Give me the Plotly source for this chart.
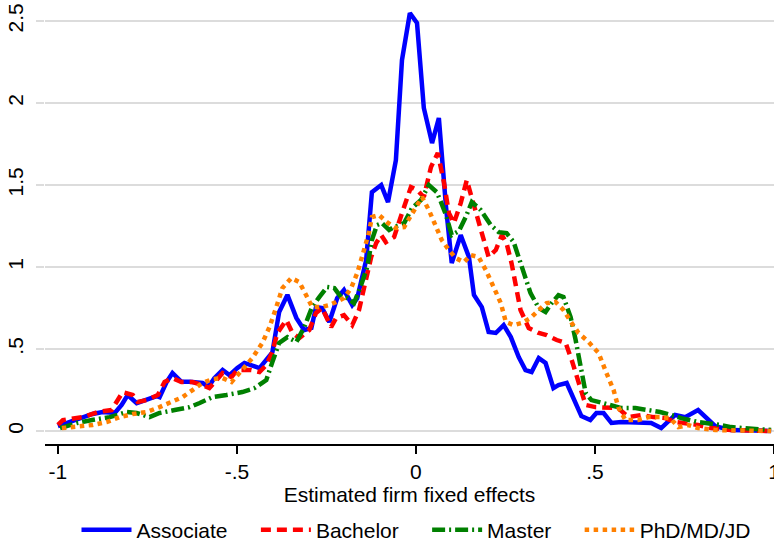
import plotly.graph_objects as go

# ---- data ----
assoc_x = [-1.000, -0.967, -0.903, -0.875, -0.841, -0.822, -0.805, -0.780, -0.752, -0.724, -0.716, -0.696, -0.680, -0.655, -0.632, -0.596, -0.579, -0.563, -0.540, -0.521, -0.499, -0.479, -0.437, -0.401, -0.382, -0.359, -0.334, -0.312, -0.292, -0.279, -0.262, -0.242, -0.220, -0.201, -0.178, -0.164, -0.139, -0.123, -0.097, -0.078, -0.056, -0.039, -0.017, 0.003, 0.022, 0.045, 0.064, 0.084, 0.100, 0.125, 0.148, 0.162, 0.184, 0.203, 0.223, 0.245, 0.265, 0.287, 0.306, 0.323, 0.343, 0.362, 0.384, 0.398, 0.421, 0.446, 0.462, 0.487, 0.504, 0.524, 0.546, 0.574, 0.621, 0.657, 0.685, 0.724, 0.752, 0.788, 0.836, 0.880, 0.992]
assoc_y = [0.030, 0.055, 0.104, 0.116, 0.110, 0.159, 0.220, 0.170, 0.190, 0.213, 0.207, 0.300, 0.354, 0.300, 0.300, 0.293, 0.270, 0.323, 0.372, 0.341, 0.384, 0.415, 0.384, 0.480, 0.726, 0.830, 0.690, 0.616, 0.628, 0.756, 0.750, 0.665, 0.810, 0.860, 0.768, 0.810, 1.043, 1.457, 1.500, 1.396, 1.652, 2.262, 2.549, 2.488, 1.970, 1.756, 1.909, 1.366, 1.024, 1.195, 1.061, 0.830, 0.756, 0.604, 0.598, 0.646, 0.573, 0.451, 0.372, 0.360, 0.445, 0.415, 0.262, 0.280, 0.293, 0.159, 0.091, 0.067, 0.110, 0.110, 0.049, 0.055, 0.055, 0.049, 0.018, 0.098, 0.085, 0.128, 0.030, 0.006, 0.000]

bach_x = [-1.000, -0.986, -0.930, -0.889, -0.850, -0.819, -0.791, -0.777, -0.752, -0.721, -0.702, -0.680, -0.655, -0.624, -0.596, -0.577, -0.557, -0.540, -0.515, -0.499, -0.460, -0.437, -0.418, -0.401, -0.387, -0.362, -0.345, -0.326, -0.298, -0.279, -0.262, -0.237, -0.223, -0.201, -0.178, -0.159, -0.145, -0.125, -0.111, -0.097, -0.084, -0.061, -0.039, -0.014, 0.003, 0.022, 0.042, 0.061, 0.078, 0.092, 0.106, 0.125, 0.142, 0.156, 0.181, 0.203, 0.223, 0.240, 0.253, 0.267, 0.292, 0.315, 0.343, 0.365, 0.393, 0.418, 0.435, 0.454, 0.474, 0.501, 0.532, 0.565, 0.593, 0.630, 0.663, 0.696, 0.724, 0.752, 0.788, 0.825, 0.880, 0.992]
bach_y = [0.037, 0.067, 0.085, 0.116, 0.128, 0.238, 0.220, 0.177, 0.189, 0.220, 0.299, 0.323, 0.299, 0.299, 0.280, 0.262, 0.311, 0.354, 0.329, 0.372, 0.372, 0.360, 0.402, 0.482, 0.598, 0.677, 0.598, 0.567, 0.616, 0.720, 0.750, 0.634, 0.689, 0.707, 0.646, 0.738, 0.872, 1.061, 1.146, 1.195, 1.152, 1.183, 1.329, 1.488, 1.470, 1.427, 1.610, 1.695, 1.518, 1.329, 1.268, 1.390, 1.530, 1.427, 1.244, 1.061, 1.104, 1.195, 1.146, 1.024, 0.738, 0.628, 0.598, 0.585, 0.555, 0.537, 0.433, 0.293, 0.159, 0.146, 0.140, 0.140, 0.085, 0.098, 0.085, 0.079, 0.055, 0.049, 0.037, 0.018, 0.006, 0.000]

mast_x = [-0.994, -0.947, -0.905, -0.855, -0.808, -0.780, -0.744, -0.716, -0.674, -0.632, -0.604, -0.568, -0.529, -0.493, -0.485, -0.451, -0.418, -0.401, -0.382, -0.359, -0.334, -0.312, -0.290, -0.270, -0.248, -0.228, -0.209, -0.192, -0.173, -0.153, -0.136, -0.123, -0.109, -0.095, -0.075, -0.061, -0.033, -0.011, 0.014, 0.036, 0.058, 0.070, 0.084, 0.100, 0.120, 0.139, 0.156, 0.181, 0.209, 0.231, 0.253, 0.273, 0.287, 0.306, 0.320, 0.343, 0.362, 0.379, 0.398, 0.412, 0.432, 0.446, 0.460, 0.474, 0.490, 0.518, 0.546, 0.574, 0.613, 0.657, 0.682, 0.713, 0.741, 0.788, 0.816, 0.852, 0.880, 0.928, 0.992]
mast_y = [0.018, 0.049, 0.067, 0.085, 0.116, 0.110, 0.085, 0.110, 0.128, 0.146, 0.171, 0.207, 0.220, 0.232, 0.238, 0.262, 0.311, 0.421, 0.537, 0.573, 0.543, 0.634, 0.756, 0.817, 0.878, 0.872, 0.817, 0.811, 0.780, 0.890, 1.000, 1.165, 1.256, 1.268, 1.226, 1.244, 1.268, 1.360, 1.409, 1.500, 1.457, 1.396, 1.317, 1.195, 1.220, 1.305, 1.396, 1.348, 1.256, 1.213, 1.207, 1.152, 1.061, 0.939, 0.841, 0.750, 0.726, 0.780, 0.829, 0.817, 0.695, 0.555, 0.390, 0.232, 0.189, 0.171, 0.159, 0.140, 0.140, 0.128, 0.116, 0.098, 0.079, 0.055, 0.049, 0.037, 0.024, 0.018, 0.006]

phd_x = [-0.989, -0.947, -0.903, -0.864, -0.827, -0.791, -0.752, -0.716, -0.680, -0.652, -0.624, -0.596, -0.568, -0.540, -0.515, -0.493, -0.457, -0.429, -0.409, -0.390, -0.373, -0.348, -0.326, -0.304, -0.290, -0.265, -0.242, -0.223, -0.201, -0.181, -0.164, -0.145, -0.131, -0.123, -0.103, -0.081, -0.056, -0.033, -0.011, 0.017, 0.036, 0.056, 0.072, 0.092, 0.111, 0.134, 0.153, 0.175, 0.195, 0.217, 0.237, 0.251, 0.273, 0.295, 0.320, 0.343, 0.365, 0.390, 0.412, 0.435, 0.454, 0.482, 0.510, 0.532, 0.552, 0.565, 0.585, 0.621, 0.649, 0.685, 0.710, 0.733, 0.760, 0.788, 0.836, 0.992]
phd_y = [0.018, 0.024, 0.037, 0.055, 0.085, 0.104, 0.116, 0.146, 0.177, 0.207, 0.250, 0.293, 0.317, 0.323, 0.299, 0.354, 0.445, 0.537, 0.634, 0.756, 0.872, 0.933, 0.909, 0.817, 0.756, 0.756, 0.768, 0.787, 0.811, 0.872, 0.963, 1.104, 1.213, 1.305, 1.317, 1.274, 1.238, 1.244, 1.329, 1.427, 1.348, 1.244, 1.165, 1.104, 1.055, 1.030, 1.073, 1.061, 0.982, 0.878, 0.780, 0.665, 0.646, 0.659, 0.689, 0.738, 0.780, 0.787, 0.738, 0.659, 0.598, 0.543, 0.476, 0.354, 0.250, 0.146, 0.067, 0.067, 0.085, 0.085, 0.079, 0.024, 0.037, 0.018, 0.006, 0.000]

series_names = ["Associate", "Bachelor", "Master", "PhD/MD/JD"]
x_ticks = [-1, -0.5, 0, 0.5, 1]
x_tick_labels = ["-1", "-.5", "0", ".5", "1"]
y_ticks = [0, 0.5, 1, 1.5, 2, 2.5]
y_tick_labels = ["0", ".5", "1", "1.5", "2", "2.5"]

FONT = "Liberation Sans, Arial, Helvetica, sans-serif"
FS = 21
PAD = "\u00a0" * 4

fig = go.Figure()
fig.add_trace(go.Scatter(x=assoc_x, y=assoc_y, mode="lines", name=series_names[0] + PAD,
                         line=dict(color="#0000ff", width=4.5)))
fig.add_trace(go.Scatter(x=bach_x, y=bach_y, mode="lines", name=series_names[1] + PAD,
                         line=dict(color="#ff0000", width=4.5, dash="10px,6px")))
fig.add_trace(go.Scatter(x=mast_x, y=mast_y, mode="lines", name=series_names[2] + PAD,
                         line=dict(color="#008000", width=4.5, dash="13px,4px,2px,4px")))
fig.add_trace(go.Scatter(x=phd_x, y=phd_y, mode="lines", name=series_names[3],
                         line=dict(color="#ff8000", width=4.5, dash="4.5px,4.5px")))

fig.update_layout(
    width=774, height=543,
    margin=dict(l=45, r=0, t=5, b=99, autoexpand=False),
    paper_bgcolor="white", plot_bgcolor="white",
    font=dict(family=FONT, size=FS, color="black"),
    showlegend=True,
    legend=dict(orientation="h", x=0.5096, xanchor="center", y=-0.196, yanchor="middle",
                font=dict(size=FS), traceorder="normal", itemwidth=50),
)
fig.update_xaxes(
    range=[-1.036, 1.0], automargin=False,
    tickvals=x_ticks, ticktext=x_tick_labels, ticklabeloverflow="allow",
    showgrid=False, zeroline=False,
    showline=True, linecolor="black", linewidth=1.5,
    ticks="outside", ticklen=8, tickcolor="black", tickwidth=1.5,
    tickfont=dict(size=FS),
    title=dict(text="Estimated firm fixed effects", standoff=0, font=dict(size=FS)),
)
fig.update_yaxes(
    range=[-0.079, 2.598], automargin=False,
    tickvals=y_ticks, ticktext=y_tick_labels,
    showgrid=True, gridcolor="#dcdcdc", gridwidth=1.5,
    zeroline=False, showline=False,
    ticks="outside", ticklen=8, tickcolor="#dcdcdc", tickwidth=1.5,
    tickangle=-90, ticklabelstandoff=5,
    tickfont=dict(size=FS),
)

fig.write_html("out.html", config={"displayModeBar": False},
               post_script="document.body.style.margin='0';")
